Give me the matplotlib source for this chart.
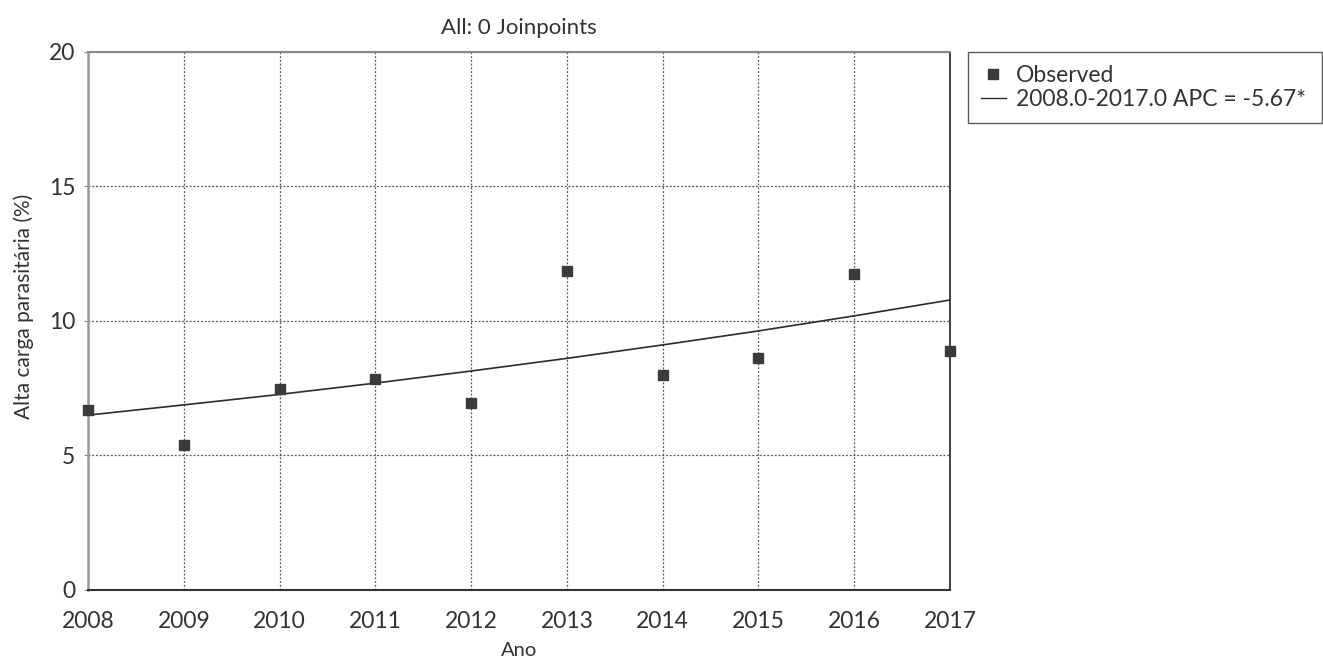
import numpy as np
import matplotlib.pyplot as plt
from matplotlib.lines import Line2D

plt.rcParams['font.family'] = ['Lato', 'DejaVu Sans']

# observed values (%) and fitted trend per year
anos = [2008, 2009, 2010, 2011, 2012, 2013, 2014, 2015, 2016, 2017]
observado = [6.69, 5.39, 7.47, 7.84, 6.95, 11.86, 7.99, 8.62, 11.75, 8.88]
modelado = [6.50, 6.88, 7.27, 7.69, 8.14, 8.61, 9.11, 9.63, 10.19, 10.78]

cinza = '#333333'

fig = plt.figure(figsize=(13.23, 6.62), dpi=100)
ax = fig.add_axes([0.0665, 0.1088, 0.6516, 0.8127])

ax.plot(anos, modelado, '-', color='#2b2b2b', linewidth=1.2, zorder=3)
ax.plot(anos, observado, 's', color='#3a3a3a', markersize=7.5, linestyle='none', zorder=4,
        clip_on=False)

ax.set_xlim(2008, 2017)
ax.set_ylim(0, 20)
ax.set_xticks(anos)
ax.set_yticks([0, 5, 10, 15, 20])
ax.tick_params(length=3, width=0.8, color='#888888', labelsize=16.5, colors=cinza)
ax.tick_params(axis='x', length=0, pad=15)
ax.tick_params(axis='y', pad=6)
ax.grid(True, linestyle=(0, (1.5, 1.5)), color='#555555', linewidth=0.9)

ax.spines['right'].set_color(cinza)
ax.spines['right'].set_linewidth(1.3)
ax.spines['bottom'].set_color(cinza)
ax.spines['bottom'].set_linewidth(1.5)
ax.spines['top'].set_color('#888888')
ax.spines['top'].set_linewidth(1.5)
ax.spines['left'].set_color('#999999')
ax.spines['left'].set_linewidth(1.8)

ax.set_title('All: 0 Joinpoints', fontsize=16, color=cinza, pad=13)
ax.set_xlabel('Ano', fontsize=14.5, color=cinza)
ax.xaxis.set_label_coords(0.5, -0.097)
ax.set_ylabel('Alta carga parasitária (%)', fontsize=15, color=cinza)
ax.yaxis.set_label_coords(-0.063, 0.528)

itens = [Line2D([], [], marker='s', color='#3a3a3a', linestyle='none', markersize=7.5),
         Line2D([], [], color='#2b2b2b', linewidth=1)]
leg = fig.legend(itens, ['Observed', '2008.0-2017.0 APC = -5.67*'],
                 loc='upper left', bbox_to_anchor=(0.7317, 0.9215, 0.2676, 0.0),
                 mode='expand', fontsize=16.5, frameon=True, fancybox=False,
                 borderpad=0.55, borderaxespad=0, handlelength=1.1,
                 handletextpad=0.45, labelspacing=0.15)
leg.get_frame().set_edgecolor(cinza)
leg.get_frame().set_linewidth(1.0)
for t in leg.get_texts():
    t.set_color(cinza)

fig.savefig('out.png', dpi=100)
